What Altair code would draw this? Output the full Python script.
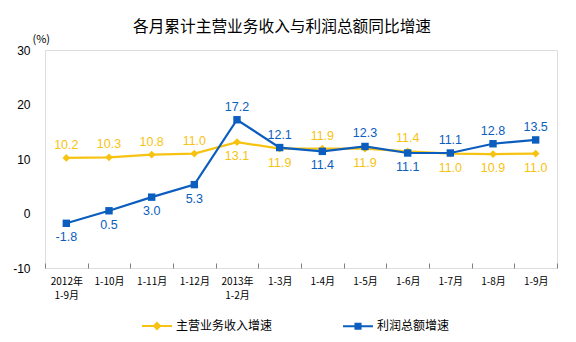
import altair as alt
import pandas as pd

categories = ["2012年\n1-9月", "1-10月", "1-11月", "1-12月", "2013年\n1-2月",
              "1-3月", "1-4月", "1-5月", "1-6月", "1-7月", "1-8月", "1-9月"]
revenue = [10.2, 10.3, 10.8, 11.0, 13.1, 11.9, 11.9, 11.9, 11.4, 11.0, 10.9, 11.0]
profit = [-1.8, 0.5, 3.0, 5.3, 17.2, 12.1, 11.4, 12.3, 11.1, 11.1, 12.8, 13.5]
revenue_label_side = ["above", "above", "above", "above", "below", "below",
                      "above", "below", "above", "below", "below", "below"]
profit_label_side = ["below", "below", "below", "below", "above", "above",
                     "below", "above", "below", "above", "above", "above"]
series_names = ["主营业务收入增速", "利润总额增速"]
series_colors = ["#F7C312", "#0B5DBE"]

rows = []
for i, c in enumerate(categories):
    rows.append({"month": c, "series": series_names[0], "value": revenue[i],
                 "side": revenue_label_side[i]})
for i, c in enumerate(categories):
    rows.append({"month": c, "series": series_names[1], "value": profit[i],
                 "side": profit_label_side[i]})
df = pd.DataFrame(rows)

FONT = "Liberation Sans"
CJK = "Noto Sans CJK SC"

x = alt.X("month:N", sort=categories,
          scale=alt.Scale(type="band", paddingInner=0, paddingOuter=0),
          axis=alt.Axis(title=None, labelAngle=0, tickBand="extent", offset=-5,
                        tickSize=5, tickColor="#808080", domain=False,
                        labelExpr="split(datum.label, '\\n')",
                        labelFont=CJK, labelFontSize=10, labelColor="#000000",
                        labelLineHeight=14, labelPadding=8, labelBaseline="top"))
y = alt.Y("value:Q",
          scale=alt.Scale(domain=[-10, 30], nice=False, zero=False),
          axis=alt.Axis(values=[-10, 0, 10, 20, 30], grid=False, ticks=False,
                        domain=False, labelFont=FONT, labelFontSize=12,
                        labelColor="#000000", labelPadding=15,
                        labelExpr="replace(datum.label, '\u2212', '-')",
                        title="(%)", titleAngle=0, titleFont=CJK,
                        titleFontSize=11, titleFontWeight="normal",
                        titleX=-13, titleY=-6, titleAlign="left",
                        titleColor="#000000"))
color_scale = alt.Scale(domain=series_names, range=series_colors)
no_legend_color = alt.Color("series:N", scale=color_scale, legend=None)

base = alt.Chart(df)

line_rev = base.transform_filter(alt.datum.series == series_names[0]).mark_line(
    strokeWidth=2.2).encode(x=x, y=y, color=no_legend_color)
line_pro = base.transform_filter(alt.datum.series == series_names[1]).mark_line(
    strokeWidth=2.2).encode(x=x, y=y, color=no_legend_color)

pts_rev = base.transform_filter(alt.datum.series == series_names[0]).mark_point(
    filled=True, opacity=1, shape="diamond", size=60).encode(
    x=x, y=y, color=no_legend_color)
pts_pro = base.transform_filter(alt.datum.series == series_names[1]).mark_point(
    filled=True, opacity=1, shape="square", size=55).encode(
    x=x, y=y, color=no_legend_color)

labelled = base.transform_calculate(
    lbl="replace(format(datum.value, '.1f'), '\u2212', '-')")
txt_above = labelled.transform_filter(alt.datum.side == "above").mark_text(
    font=FONT, fontSize=12.5, dy=-13, baseline="middle").encode(
    x=x, y=y, text="lbl:N", color=no_legend_color)
txt_below = labelled.transform_filter(alt.datum.side == "below").mark_text(
    font=FONT, fontSize=12.5, dy=14, baseline="middle").encode(
    x=x, y=y, text="lbl:N", color=no_legend_color)

shape_paths = ["M-1,0H1M0,-0.2L0.2,0L0,0.2L-0.2,0Z",
               "M-1,0H1M-0.17,-0.17H0.17V0.17H-0.17Z"]


def mk_legend():
    return alt.Legend(title=None, orient="none", direction="horizontal",
                      legendX=96, legendY=260, symbolSize=900,
                      symbolOpacity=1, symbolStrokeWidth=2,
                      labelFont=CJK, labelFontSize=12,
                      labelColor="#000000", labelOffset=3,
                      columnPadding=66)


legend_layer = base.mark_point(filled=True, opacity=0, strokeWidth=2).encode(
    x=x, y=y,
    fill=alt.Fill("series:N", scale=alt.Scale(domain=series_names, range=series_colors),
                  sort=series_names, legend=mk_legend()),
    stroke=alt.Stroke("series:N", scale=alt.Scale(domain=series_names, range=series_colors),
                      sort=series_names, legend=mk_legend()),
    shape=alt.Shape("series:N", scale=alt.Scale(domain=series_names, range=shape_paths),
                    sort=series_names, legend=mk_legend()))

chart = alt.layer(legend_layer, line_rev, line_pro, pts_rev, pts_pro,
                  txt_above, txt_below).properties(
    width=512, height=218,
    title=alt.Title("各月累计主营业务收入与利润总额同比增速", anchor="start", dx=88,
                    font=CJK, fontSize=15.7, fontWeight="normal", color="#000000",
                    offset=-3, frame="group"),
    autosize=alt.AutoSizeParams(type="none"),
    padding={"left": 45, "top": 50, "right": 19, "bottom": 74},
).configure_view(stroke="#808080", strokeWidth=1).configure(background="white")

chart.save("out.html", embed_options={"renderer": "svg", "actions": False})
